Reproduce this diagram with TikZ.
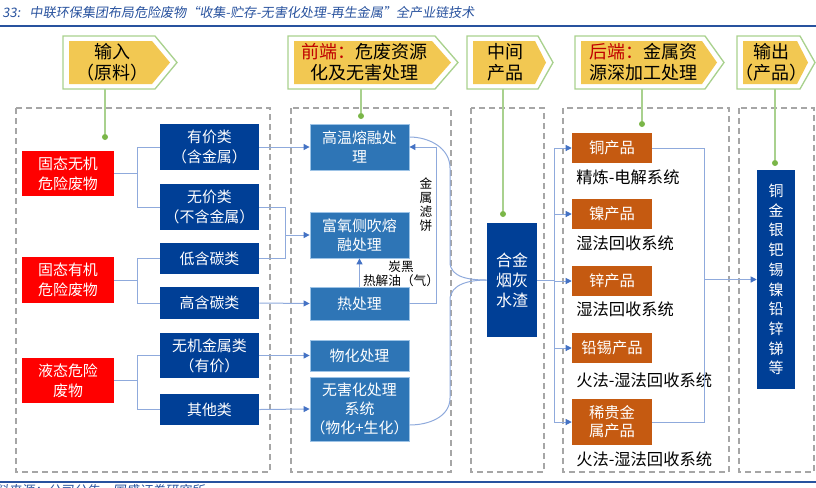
\documentclass[tikz,border=0pt]{standalone}
\usepackage{fontspec}
\setmainfont{Noto Sans CJK SC}
\newfontfamily\titulofont[FakeSlant=0.15]{Noto Sans CJK SC}
\usepackage{tikz}
\usetikzlibrary{arrows.meta,positioning,calc}
\definecolor{azuloscuro}{RGB}{0,63,150}
\definecolor{azulmedio}{RGB}{46,117,182}
\definecolor{bordeazul}{RGB}{157,195,230}
\definecolor{naranja}{RGB}{197,90,17}
\definecolor{rojofuerte}{RGB}{255,0,0}
\definecolor{rojooscuro}{RGB}{192,0,0}
\definecolor{amarillo}{RGB}{242,200,82}
\definecolor{verdeclaro}{RGB}{169,209,142}
\definecolor{verdepunto}{RGB}{122,182,72}
\definecolor{lineaazul}{RGB}{143,170,220}
\definecolor{puntaazul}{RGB}{68,114,196}
\definecolor{grisraya}{RGB}{166,166,166}
\definecolor{azultitulo}{RGB}{40,82,158}
\newcommand{\encabezado}[5]{%
  \draw[cabfuera] (#2,36) -- (#3,36) -- (#4,62.5) -- (#3,89) -- (#2,89) -- cycle;
  \fill[cabdentro] (#2+6,41) -- (#3-3,41) -- (#4-7,62.5) -- (#3-3,84) -- (#2+6,84) -- cycle;
  \node[cabtexto] (#1) at ({(#2+#3)/2+3},62.5) {#5};
  \coordinate (#1b) at ({(#2+#3)/2+2},89);
}
\tikzstyle{residuo} = [fill=rojofuerte, text=white, minimum width=69pt, inner sep=0pt, align=center, font=\fontsize{11.2}{15}\selectfont]
\tikzstyle{clase} = [fill=azuloscuro, text=white, minimum width=74.25pt, inner sep=0pt, align=center, font=\fontsize{11.2}{15}\selectfont]
\tikzstyle{proceso} = [fill=azulmedio, draw=bordeazul, line width=0.6pt, text=white, minimum width=74.25pt, inner sep=0pt, align=center, font=\fontsize{11.2}{14.5}\selectfont]
\tikzstyle{producto} = [fill=naranja, text=white, minimum width=60pt, inner sep=0pt, align=center, font=\fontsize{11.5}{13.5}\selectfont]
\tikzstyle{intermedio} = [fill=azuloscuro, text=white, minimum width=37.5pt, minimum height=85.5pt, inner sep=0pt, align=center, font=\fontsize{12}{15}\selectfont]
\tikzstyle{salida} = [fill=azuloscuro, text=white, minimum width=28.5pt, minimum height=164.25pt, inner sep=0pt, align=center, font=\fontsize{11.2}{14.8}\selectfont]
\tikzstyle{subtexto} = [anchor=west, inner sep=0pt, font=\fontsize{12.2}{14}\selectfont]
\tikzstyle{etiqueta} = [inner sep=0pt, align=center, font=\fontsize{9.5}{10.5}\selectfont]
\tikzstyle{linea} = [draw=lineaazul, line width=0.75pt]
\tikzstyle{flecha} = [linea, -{Triangle[length=4.5pt,width=4.5pt,color=puntaazul]}]
\tikzstyle{verde} = [draw=verdeclaro, line width=0.9pt]
\tikzstyle{punto} = [circle, fill=verdepunto, inner sep=0pt, minimum size=4.5pt]
\tikzstyle{panel} = [draw=grisraya, line width=1pt, dash pattern=on 4.5pt off 3pt]
\tikzstyle{cabfuera} = [draw=verdeclaro, fill=white, line width=1pt]
\tikzstyle{cabdentro} = [fill=amarillo]
\tikzstyle{cabtexto} = [inner sep=0pt, align=center, font=\fontsize{13.5}{15.75}\selectfont]
\tikzstyle{titulo} = [inner sep=0pt, anchor=west, text=azultitulo, font=\titulofont\fontsize{9.8}{12}\selectfont]
\tikzstyle{raya} = [draw=azultitulo, line width=1.6pt]
\begin{document}
\begin{tikzpicture}[x=0.75pt,y=-0.75pt]
\useasboundingbox (0,0) rectangle (816,487);
\node[titulo] (tit) at (2,13) {33:\hspace{7pt}中联环保集团布局危险废物“收集-贮存-无害化处理-再生金属”全产业链技术};
\draw[raya] (0,26) -- (816,26);
\draw[raya] (0,482) -- (816,482);
\node[titulo, anchor=north west] (fuente) at (-18,484.5) {资料来源：公司公告，国盛证券研究所};

\draw[panel] (16,108) rectangle (270,472);
\draw[panel] (291,108) rectangle (451,472);
\draw[panel] (471,108) rectangle (544,472);
\draw[panel] (563,108) rectangle (729,472);
\draw[panel] (739,108) rectangle (814,472);

\encabezado{e1}{63}{155}{177}{输入\\（原料）}
\encabezado{e2}{288}{435}{458}{{\color{rojooscuro}前端：}危废资源\\化及无害处理}
\encabezado{e3}{467}{538}{553}{中间\\产品}
\encabezado{e4}{575}{705}{724}{{\color{rojooscuro}后端：}金属资\\源深加工处理}
\encabezado{e5}{737}{800}{815}{输出\\（产品）}

\node[punto] (d1) at (105,137) {};
\node[punto] (d2) at (361,116) {};
\node[punto] (d3) at (503,214) {};
\node[punto] (d4) at (642,124) {};
\node[punto] (d5) at (775,163) {};
\foreach \i in {1,...,5}
  \draw[verde] (d\i) -- (d\i |- e\i b);

\node[residuo, minimum height=33.75pt] (gi) at (68,173.5) {固态无机\\危险废物};
\node[residuo, minimum height=34.5pt] (go) at (68,280) {固态有机\\危险废物};
\node[residuo, minimum height=33.75pt] (gl) at (68,380.5) {液态危险\\废物};

\node[clase, minimum height=34.5pt] (yj) at (209.5,147) {有价类\\（含金属）};
\node[clase, minimum height=34.5pt] (wj) at (209.5,207) {无价类\\（不含金属）};
\node[clase, minimum height=23.25pt] (dt) at (209.5,258.5) {低含碳类};
\node[clase, minimum height=24pt] (gt) at (209.5,303) {高含碳类};
\node[clase, minimum height=33.75pt] (wm) at (209.5,355.5) {无机金属类\\（有价）};
\node[clase, minimum height=23.25pt] (qt) at (209.5,409.5) {其他类};

\node[proceso, minimum height=34.5pt] (gw) at (359.5,147) {高温熔融处\\理};
\node[proceso, minimum height=34.5pt] (fy) at (359.5,235) {富氧侧吹熔\\融处理};
\node[proceso, minimum height=24.75pt] (rc) at (359.5,303.5) {热处理};
\node[proceso, minimum height=23.25pt] (wh) at (359.5,355.5) {物化处理};
\node[proceso, minimum height=48pt] (wz) at (359.5,409) {无害化处理\\系统\\（物化+生化）};

\node[intermedio] (hj) at (512,280) {合金\\烟灰\\水渣};

\node[producto, minimum height=22.5pt] (tong) at (612,148) {铜产品};
\node[producto, minimum height=22.5pt] (nie) at (612,214) {镍产品};
\node[producto, minimum height=22.5pt] (xin) at (612,281) {锌产品};
\node[producto, minimum height=22.5pt] (qx) at (612,348) {铅锡产品};
\node[producto, minimum height=34.5pt] (xg) at (612,422) {稀贵金\\属产品};
\node[subtexto] (s1) at (576,177) {精炼-电解系统};
\node[subtexto] (s2) at (576,243) {湿法回收系统};
\node[subtexto] (s3) at (576,309) {湿法回收系统};
\node[subtexto] (s4) at (576,380) {火法-湿法回收系统};
\node[subtexto] (s5) at (576,459) {火法-湿法回收系统};

\node[salida] (sc) at (776,279.5) {铜\\金\\银\\钯\\锡\\镍\\铅\\锌\\锑\\等};

\coordinate (xa) at (137,0);
\coordinate (xb) at (285,0);
\coordinate (xr) at (436,0);
\coordinate (xc) at (554,0);
\coordinate (xd) at (704,0);

\draw[linea] (gi.east) -- (gi.east -| xa);
\draw[linea] (yj.west) -- (yj.west -| xa) -- (wj.west -| xa) -- (wj.west);
\draw[linea] (go.east) -- (go.east -| xa);
\draw[linea] (dt.west) -- (dt.west -| xa) -- (gt.west -| xa) -- (gt.west);
\draw[linea] (gl.east) -- (gl.east -| xa);
\draw[linea] (wm.west) -- (wm.west -| xa) -- (qt.west -| xa) -- (qt.west);

\draw[flecha] (yj.east) -- (gw.west);
\draw[linea] (wj.east) -- (wj.east -| xb) -- (dt.east -| xb) -- (dt.east);
\draw[flecha] (fy.west -| xb) -- (fy.west);
\draw[flecha] (gt.east) -- (rc.west);
\draw[flecha] (wm.east) -- (wh.west);
\draw[flecha] (qt.east) -- (wz.west);

\draw[flecha] (rc.north) -- (fy.south);
\draw[flecha] (rc.east) -- (rc.east -| xr) -- (gw.east -| xr) -- (gw.east);
\node[etiqueta] (lf) at (426,205) {金\\属\\滤\\饼};
\node[etiqueta] (lt) at (401,274) {炭黑\\热解油（气）};

\draw[linea] ([yshift=7.5pt]gw.east) to[out=0,in=90] (450,168) -- (450,262) to[out=-90,in=180] (hj.west);
\draw[linea] ([yshift=-12pt]wz.east) to[out=0,in=-90] (450,398) -- (450,300) to[out=90,in=180] (hj.west);

\draw[linea] (hj.east) -- (hj.east -| xc);
\draw[linea] (tong.west -| xc) -- (xg.west -| xc);
\foreach \p in {tong,nie,xin,qx,xg}
  \draw[flecha] (\p.west -| xc) -- (\p.west);

\draw[linea] (tong.east) -- (tong.east -| xd) -- (xg.east -| xd) -- (xg.east);
\draw[flecha] (sc.west -| xd) -- (sc.west);
\end{tikzpicture}
\end{document}
